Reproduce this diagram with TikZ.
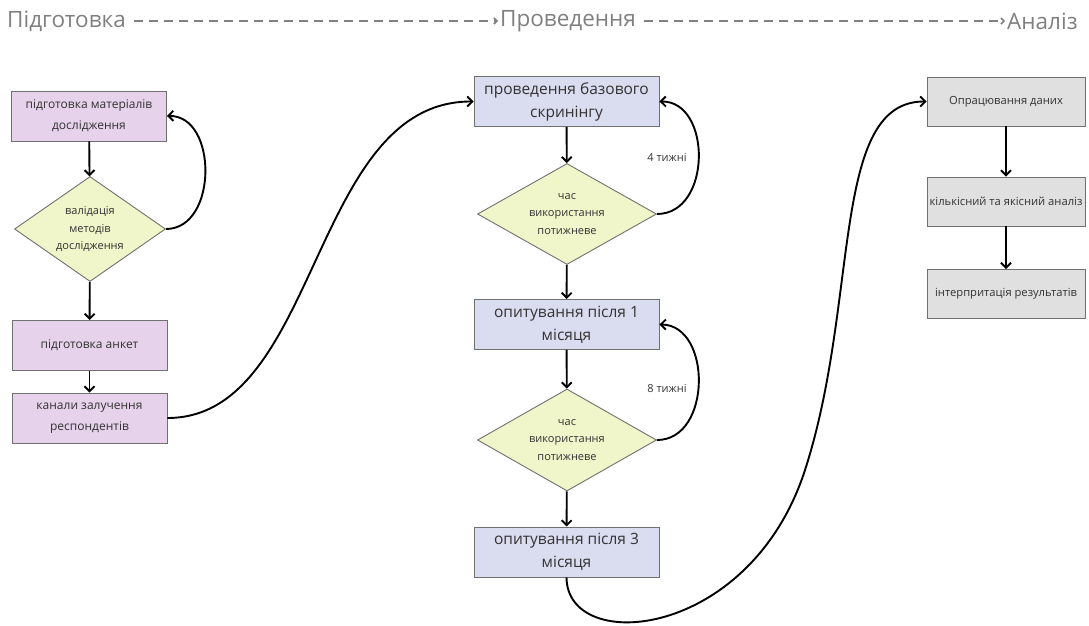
\documentclass[tikz,border=0pt]{standalone}
\usepackage{fontspec}
\setmainfont{Open Sans}
\usetikzlibrary{arrows.meta,shapes.geometric}
\definecolor{fcInk}{HTML}{333333}
\definecolor{fcEdge}{HTML}{707070}
\definecolor{fcHead}{HTML}{808080}
\definecolor{fcPrep}{HTML}{E6D2EA}
\definecolor{fcRun}{HTML}{DADCF0}
\definecolor{fcDone}{HTML}{E0E0E0}
\definecolor{fcCheck}{HTML}{F0F5CA}
\tikzset{fc/base/.style={x=1pt,y=1pt,line cap=butt,line join=miter,
  every node/.style={inner sep=0pt,text=fcInk}},
  fc/arrow/.style={-{Straight Barb[length=5pt,width=10pt]},draw=black,line width=1.9pt},
  fc/head/.style={-{Straight Barb[length=3pt,width=6pt]},draw=fcHead,line width=1.6pt,
    dash pattern=on 9pt off 6pt},
  fc/prep/.style={draw=fcEdge,fill=fcPrep,line width=.9pt,minimum width=155pt,
    minimum height=50pt,align=center,font=\fontsize{12}{21}\selectfont},
  fc/run/.style={draw=fcEdge,fill=fcRun,line width=.9pt,minimum width=185pt,
    minimum height=50pt,align=center,font=\fontsize{15.5}{23}\selectfont},
  fc/done/.style={draw=fcEdge,fill=fcDone,line width=.9pt,minimum width=158pt,
    minimum height=49pt,align=center,font=\fontsize{11.2}{14}\selectfont},
  fc/check/.style={diamond,aspect=1.5,draw=fcEdge,fill=fcCheck,line width=.9pt,
    align=center,font=\fontsize{11}{17.5}\selectfont},
  fc/note/.style={font=\fontsize{11}{13}\selectfont}}

\begin{document}
\begin{tikzpicture}[fc/base,y=-1pt]
  \useasboundingbox (0,0) rectangle (1089,626);
  % header
  \node[anchor=west,text=fcHead,font=\fontsize{22.5}{26}\selectfont] (hdrPrep) at (7,21) {Підготовка};
  \node[anchor=west,text=fcHead,font=\fontsize{22.5}{26}\selectfont] (hdrRun) at (500,21) {Проведення};
  \node[anchor=west,text=fcHead,font=\fontsize{22.5}{26}\selectfont] (hdrAn) at (1007,21) {Аналіз};
  \draw[fc/head] ([xshift=8pt]hdrPrep.east)--([xshift=-2pt]hdrRun.west);
  \draw[fc/head] ([xshift=8pt]hdrRun.east)--([xshift=-2pt]hdrAn.west);
  % preparation
  \node[fc/prep] (matPrep) at (89,116) {підготовка матеріалів\\дослідження};
  \node[fc/check,minimum width=151pt,minimum height=105pt] (valid) at (90,229)
    {валідація\\методів\\дослідження};
  \node[fc/prep] (formPrep) at (89.5,345.5) {підготовка анкет};
  \node[fc/prep] (recruit) at (89.5,418) {канали залучення\\респондентів};
  \draw[fc/arrow] (matPrep)--(valid);
  \draw[fc/arrow] (valid.east) .. controls (218,229) and (218,115) .. (matPrep.east);
  \draw[fc/arrow] (valid)--(formPrep);
  \draw[fc/arrow] (formPrep)--(recruit);
  % run
  \node[fc/run] (screen) at (566.5,101.5) {проведення базового\\скринінгу};
  \node[fc/check,minimum width=179pt,minimum height=101pt] (useA) at (567,214)
    {час\\використання\\потижневе};
  \node[fc/run] (month1) at (566.5,324.5) {опитування після 1\\місяця};
  \node[fc/check,minimum width=179pt,minimum height=102pt] (useB) at (567,440)
    {час\\використання\\потижневе};
  \node[fc/run] (month3) at (566.5,552) {опитування після 3\\місяця};
  \node[fc/note] (lblFour) at (667,157) {4 тижні};
  \node[fc/note] (lblEight) at (667,389) {8 тижні};
  \draw[fc/arrow] (recruit.east) .. controls (320,418) and (310,101) .. (screen.west);
  \draw[fc/arrow] (screen)--(useA);
  \draw[fc/arrow] (useA.east) .. controls (712,214) and (712,101) .. (screen.east);
  \draw[fc/arrow] (useA)--(month1);
  \draw[fc/arrow] (month1)--(useB);
  \draw[fc/arrow] (useB.east) .. controls (712,440) and (712,325) .. (month1.east);
  \draw[fc/arrow] (useB)--(month3);
  % analysis
  \node[fc/done] (process) at (1006,101.5) {Опрацювання даних};
  \node[fc/done] (analyse) at (1006,201.5) {кількісний та якісний аналіз};
  \node[fc/done] (interpret) at (1006,294) {інтерпритація результатів};
  \draw[fc/arrow] (month3.south) .. controls (567,655) and (750,640) .. (805,470)
    .. controls (860,300) and (830,101) .. (process.west);
  \draw[fc/arrow] (process)--(analyse);
  \draw[fc/arrow] (analyse)--(interpret);
\end{tikzpicture}
\end{document}
